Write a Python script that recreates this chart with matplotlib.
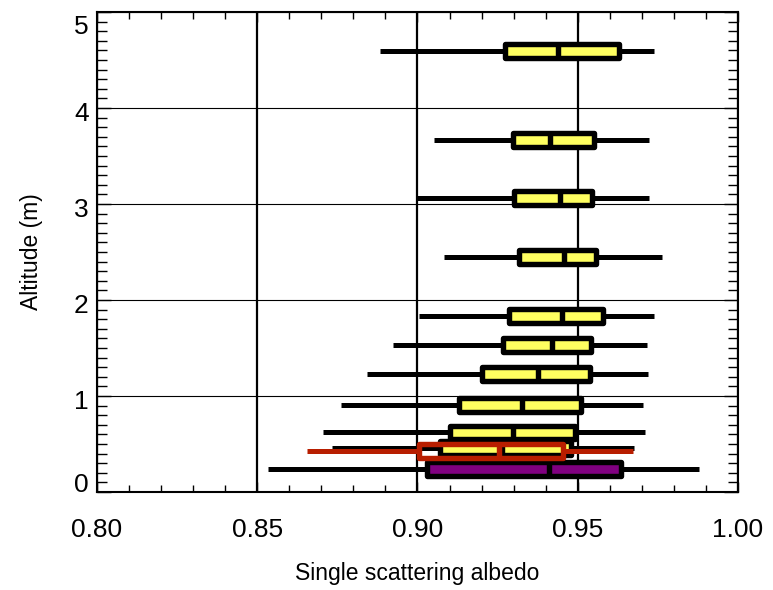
import matplotlib
matplotlib.use("Agg")
import matplotlib.pyplot as plt
from matplotlib.ticker import MultipleLocator, FormatStrFormatter
from matplotlib.transforms import ScaledTranslation

# box statistics (single scattering albedo per altitude)
altitude = [4.59, 3.67, 3.06, 2.45, 1.83, 1.53, 1.23, 0.91, 0.62, 0.46, 0.235]
whis_lo = [0.8883, 0.9051, 0.8998, 0.9082, 0.9004, 0.8923, 0.8842, 0.8761, 0.8705, 0.8733, 0.8533]
q1 = [0.9272, 0.9297, 0.9300, 0.9316, 0.9285, 0.9266, 0.9201, 0.9129, 0.9101, 0.9070, 0.9029]
median = [0.9438, 0.9413, 0.9444, 0.9457, 0.9450, 0.9419, 0.9376, 0.9326, 0.9298, 0.9263, 0.9410]
q3 = [0.9628, 0.9550, 0.9544, 0.9557, 0.9579, 0.9541, 0.9538, 0.9510, 0.9491, 0.9479, 0.9635]
whis_hi = [0.9737, 0.9722, 0.9722, 0.9762, 0.9737, 0.9715, 0.9719, 0.9703, 0.9709, 0.9675, 0.9878]
fills = ["#ffff60"] * 10 + ["#800080"]

# the red (unfilled) box near the ground
red_alt = 0.43
red_stats = dict(whislo=0.8655, q1=0.9004, med=0.9254, q3=0.9454, whishi=0.9672)

x_ticks = [0.80, 0.85, 0.90, 0.95, 1.00]
y_ticks = [0, 1, 2, 3, 4, 5]

plt.rcParams["font.family"] = ["Liberation Sans", "DejaVu Sans"]

fig = plt.figure(figsize=(7.73, 5.90), dpi=100)
ax = fig.add_axes([0.1255, 0.1661, 0.8292, 0.8136])

ax.set_xlim(0.80, 1.00)
ax.set_ylim(0, 5.0)

ax.grid(True, axis="x", which="major", color="black", linewidth=1.6, zorder=0)
ax.grid(True, axis="y", which="major", color="black", linewidth=0.8, zorder=0)
ax.set_axisbelow(True)

box_w = 0.145
stats = []
for i in range(len(altitude)):
    stats.append(dict(whislo=whis_lo[i], q1=q1[i], med=median[i], q3=q3[i],
                      whishi=whis_hi[i], fliers=[]))

bp = ax.bxp(stats, positions=altitude, widths=box_w, orientation="horizontal",
            patch_artist=True, showcaps=False, showfliers=False, manage_ticks=False,
            boxprops=dict(edgecolor="black", linewidth=3.9, joinstyle="round"),
            whiskerprops=dict(color="black", linewidth=3.6, solid_capstyle="butt"),
            medianprops=dict(color="black", linewidth=3.9, solid_capstyle="butt"))
for patch, c in zip(bp["boxes"], fills):
    patch.set_facecolor(c)
    patch.set_zorder(3)
for ln in bp["whiskers"]:
    ln.set_zorder(2)
for ln in bp["medians"]:
    ln.set_zorder(4)

red = "#b81e00"
red_stats["fliers"] = []
rp = ax.bxp([red_stats], positions=[red_alt], widths=box_w, orientation="horizontal",
            patch_artist=True, showcaps=False, showfliers=False, manage_ticks=False,
            boxprops=dict(edgecolor=red, facecolor="none", linewidth=3.9, joinstyle="round"),
            whiskerprops=dict(color=red, linewidth=3.6, solid_capstyle="butt"),
            medianprops=dict(color=red, linewidth=3.9, solid_capstyle="butt"))
for a in rp["boxes"] + rp["whiskers"] + rp["medians"]:
    a.set_zorder(5)

ax.set_xticks(x_ticks)
ax.set_yticks(y_ticks)
ax.xaxis.set_minor_locator(MultipleLocator(0.01))
ax.yaxis.set_minor_locator(MultipleLocator(0.1))
ax.xaxis.set_major_formatter(FormatStrFormatter("%.2f"))
ax.tick_params(which="both", direction="in", top=True, right=True,
               labelsize=19, width=1.0, colors="black")
ax.tick_params(axis="x", which="major", length=7, pad=19)
ax.tick_params(axis="x", which="minor", length=5)
ax.tick_params(axis="y", which="major", length=10, pad=6)
ax.tick_params(axis="y", which="minor", length=7.2)

# IDL-style label placement: end labels pulled inside the axis range
for lab, v in zip(ax.get_yticklabels(), y_ticks):
    dy = -4 if 0 < v < 5 else (10 if v == 0 else -13)
    lab.set_transform(lab.get_transform() + ScaledTranslation(0, dy / 100, fig.dpi_scale_trans))

for s in ax.spines.values():
    s.set_linewidth(1.5)

ax.set_xlabel("Single scattering albedo", fontsize=16.5, labelpad=14)
ax.set_ylabel("Altitude (m)", fontsize=16.5, labelpad=22)

fig.savefig("out.png", dpi=100)
